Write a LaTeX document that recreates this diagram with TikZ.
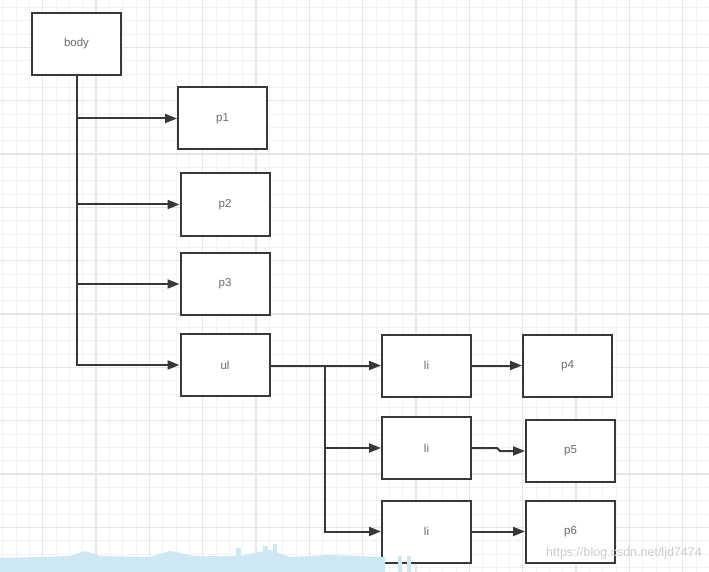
\documentclass[tikz,border=0pt]{standalone}
\usepackage{fontspec}
\setmainfont{Liberation Sans}
\usetikzlibrary{arrows.meta}
\definecolor{gridmin}{HTML}{F2F2F2}
\definecolor{gridmaj}{HTML}{E6E6E6}
\definecolor{boxline}{HTML}{383838}
\definecolor{txtgray}{HTML}{6A6A6A}
\definecolor{wave}{HTML}{CDE7F3}
\tikzset{
  box/.style={draw=boxline, line width=2pt, fill=white, minimum width=89pt, minimum height=62pt, inner sep=0pt,
    font=\fontsize{11.5}{13}\selectfont, text=txtgray},
  arr/.style={draw=boxline, line width=2pt, -{Triangle[length=12pt,width=9pt]}},
  gridminor/.style={draw=gridmin, line width=0.8pt},
  gridmajor/.style={draw=gridmaj, line width=1.1pt}
}
\begin{document}
\begin{tikzpicture}[x=1pt,y=-1pt]
\useasboundingbox (0,0) rectangle (709,572);
\fill[white] (0,0) rectangle (709,572);
% grid
\foreach \i in {0,...,53} {\draw[gridminor] ({2.667+13.333*\i},0) -- ++(0,572);}
\foreach \i in {0,...,42} {\draw[gridminor] (0,{7.333+13.333*\i}) -- ++(709,0);}
\foreach \i in {0,...,12} {\draw[gridmajor] ({42.667+53.333*\i},0) -- ++(0,572);}
\foreach \i in {0,...,9} {\draw[gridmajor] (0,{47.333+53.333*\i}) -- ++(709,0);}
% boxes
\node[box] (body) at (76.5,44) {body};
\node[box] (p1) at (222.5,118.5) {p1};
\node[box] (p2) at (225,204.5) {p2};
\node[box] (p3) at (225,284) {p3};
\node[box] (ul) at (225,365) {ul};
\node[box] (li1) at (426.5,365.5) {li};
\node[box] (p4) at (567.5,365.5) {p4};
\node[box] (li2) at (426.5,448) {li};
\node[box] (p5) at (570.5,451) {p5};
\node[box] (li3) at (426.5,531.5) {li};
\node[box] (p6) at (570.5,531.5) {p6};
% connectors
\draw[arr] (body.south) |- (ul.west);
\draw[arr] (body.south |- p1.west) -- (p1.west);
\draw[arr] (body.south |- p2.west) -- (p2.west);
\draw[arr] (body.south |- p3.west) -- (p3.west);
\coordinate (j) at (325,365.5);
\draw[arr] (ul.east |- j) -- (li1.west);
\draw[arr] (j) |- (li3.west);
\draw[arr] (j |- li2.west) -- (li2.west);
\draw[arr] (li1.east) -- (p4.west);
\coordinate (k1) at (497,448);
\coordinate (k2) at (500,451);
\draw[arr] (li2.east) -- (k1) -- (k2) -- (p5.west);
\draw[arr] (li3.east) -- (p6.west);
% bottom decoration
\fill[wave] (0,572) -- (0,558) -- (40,557) -- (70,556) -- (85,551) -- (100,556) -- (150,557) -- (170,551) -- (195,556) -- (240,556) -- (270,550) -- (290,557) -- (330,555) -- (385,557) -- (385,572) -- cycle;
\fill[wave] (236,548) rectangle (241,572);
\fill[wave] (263,546) rectangle (268,572);
\fill[wave] (273,544) rectangle (277,572);
\fill[wave] (398,556) rectangle (402,572);
\fill[wave] (407,556) rectangle (411,572);
\node[font=\fontsize{12.5}{14}\selectfont, text=gray!40, inner sep=0pt, anchor=east] (wm) at (702,553) {https://blog.csdn.net/ljd7474};
\end{tikzpicture}
\end{document}
